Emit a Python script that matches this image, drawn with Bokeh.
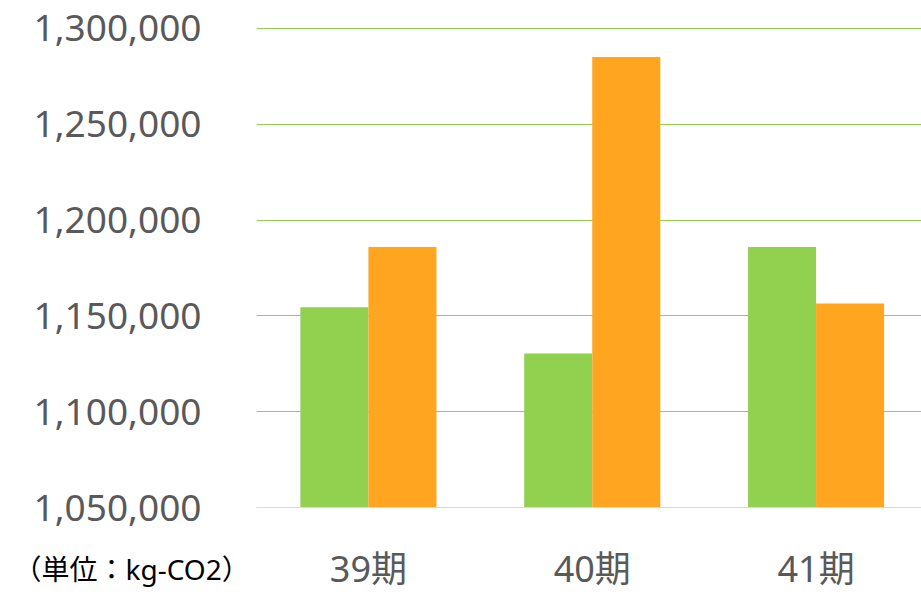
from bokeh.plotting import figure
from bokeh.models import ColumnDataSource, Range1d, FixedTicker, Title, NumeralTickFormatter
from bokeh.transform import dodge
from bokeh.embed import file_html
from bokeh.resources import INLINE

categories = ["39期", "40期", "41期"]
series_a = [1154500, 1130400, 1185900]   # green
series_b = [1185900, 1285000, 1156500]   # orange
y_ticks = [1050000, 1100000, 1150000, 1200000, 1250000, 1300000]
unit_label = "（単位：kg-CO2）"

FONT = "'Noto Sans', 'Noto Sans CJK JP', sans-serif"
GREEN = "#92D050"
ORANGE = "#FFA51F"

src = ColumnDataSource(dict(x=list(range(len(categories))), a=series_a, b=series_b))

p = figure(width=921, height=596, output_backend="svg", toolbar_location=None,
           x_range=Range1d(-0.5, 2.471), y_range=Range1d(1050000, 1301500),
           min_border_left=256, min_border_right=0, min_border_top=25, min_border_bottom=89)
p.outline_line_color = None
p.background_fill_color = "white"
p.border_fill_color = "white"

bottom = 1050000
p.vbar(x=dodge("x", -0.152), top="a", bottom=bottom, width=0.304, source=src,
       fill_color=GREEN, line_color=None)
p.vbar(x=dodge("x", 0.152), top="b", bottom=bottom, width=0.304, source=src,
       fill_color=ORANGE, line_color=None)

p.xgrid.grid_line_color = None
p.ygrid.grid_line_color = GREEN
p.ygrid.grid_line_width = 1
p.yaxis.ticker = FixedTicker(ticks=y_ticks)
p.yaxis.formatter = NumeralTickFormatter(format="0,0")
p.yaxis.axis_line_color = None
p.yaxis.major_tick_line_color = None
p.yaxis.minor_tick_line_color = None
p.yaxis.major_label_text_font = FONT
p.yaxis.major_label_text_font_size = "37px"
p.yaxis.major_label_text_color = "#595959"
p.yaxis.major_label_standoff = 49

p.xaxis.ticker = FixedTicker(ticks=list(range(len(categories))))
p.xaxis.major_label_overrides = {i: c for i, c in enumerate(categories)}
p.xaxis.axis_line_color = "#D9D9D9"
p.xaxis.axis_line_width = 1
p.xaxis.major_tick_line_color = None
p.xaxis.minor_tick_line_color = None
p.xaxis.major_label_text_font = FONT
p.xaxis.major_label_text_font_size = "36px"
p.xaxis.major_label_text_color = "#595959"
p.xaxis.major_label_standoff = 30

unit_title = Title(text=unit_label, align="left", vertical_align="top", offset=-243, standoff=-92,
                   text_font=FONT, text_font_size="28px", text_font_style="normal",
                   text_color="#000000")
p.add_layout(unit_title, "below")

open("out.html", "w").write(file_html(p, INLINE))
